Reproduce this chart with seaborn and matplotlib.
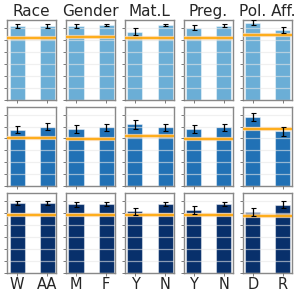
import matplotlib
matplotlib.use("Agg")
import matplotlib.pyplot as plt
import seaborn as sns
import pandas as pd
import numpy as np

sns.set_theme(style="whitegrid")
plt.rcParams['font.family'] = ['DejaVu Sans']

groups = ["Race", "Gender", "Mat.L", "Preg.", "Pol. Aff."]
labels = [["W", "AA"], ["M", "F"], ["Y", "N"], ["Y", "N"], ["D", "R"]]

row_colors = ["#6baed6", "#2171b5", "#08306b"]

values = [
    [[0.924, 0.924], [0.920, 0.933], [0.852, 0.933], [0.903, 0.927], [0.966, 0.877]],
    [[0.712, 0.750], [0.720, 0.740], [0.780, 0.740], [0.716, 0.740], [0.866, 0.690]],
    [[0.878, 0.874], [0.861, 0.870], [0.773, 0.870], [0.790, 0.870], [0.769, 0.857]],
]
errors = [
    [[0.025, 0.02], [0.025, 0.015], [0.047, 0.015], [0.028, 0.02], [0.035, 0.04]],
    [[0.046, 0.042], [0.046, 0.042], [0.056, 0.042], [0.05, 0.042], [0.048, 0.058]],
    [[0.028, 0.025], [0.034, 0.025], [0.046, 0.025], [0.044, 0.025], [0.05, 0.046]],
]
baselines = [
    [0.776, 0.781, 0.776, 0.776, 0.810],
    [0.600, 0.590, 0.630, 0.590, 0.716],
    [0.726, 0.722, 0.722, 0.722, 0.714],
]

fig, axes = plt.subplots(3, 5, figsize=(2.97, 2.97), dpi=100)
fig.subplots_adjust(left=0.024, right=0.983, top=0.933, bottom=0.081,
                    wspace=0.204, hspace=0.088)

for r in range(3):
    for c in range(5):
        ax = axes[r, c]
        df = pd.DataFrame({"label": labels[c], "value": values[r][c]})
        sns.barplot(data=df, x="label", y="value", ax=ax, color=row_colors[r],
                    saturation=1, width=0.5, errorbar=None,
                    edgecolor=(1, 1, 1, 0.45), linewidth=0.8)
        ax.errorbar([0, 1], values[r][c], yerr=errors[r][c], fmt="none",
                    ecolor="black", elinewidth=0.9, capsize=1.8, capthick=0.8,
                    zorder=5)
        ax.axhline(baselines[r][c], color="#fdd49e", lw=3.0, alpha=0.8, zorder=4)
        ax.axhline(baselines[r][c], color="orange", lw=1.2, zorder=4.5)
        ax.set_ylim(0, 1.0)
        ax.set_xlim(-0.33, 1.3)
        ax.set_yticks(np.arange(0, 0.91, 0.15))
        ax.set_yticklabels([])
        ax.set_xlabel("")
        ax.set_ylabel("")
        ax.set_axisbelow(False)
        ax.grid(axis="y", color="#e6e6e6", lw=0.9, alpha=0.6)
        ax.grid(axis="x", visible=False)
        for s in ax.spines.values():
            s.set_color("#888888")
            s.set_linewidth(1.0)
        ax.tick_params(axis="y", left=True, length=2, width=0.6, color="#666666", pad=1)
        ax.tick_params(axis="x", bottom=True, length=2, width=0.6, color="#666666", pad=1)
        if r == 2:
            ax.set_xticklabels(labels[c], fontsize=10.5)
        else:
            ax.set_xticklabels([])
        if r == 0:
            ax.set_title(groups[c], fontsize=11, pad=3)

fig.savefig("out.png", dpi=100)
